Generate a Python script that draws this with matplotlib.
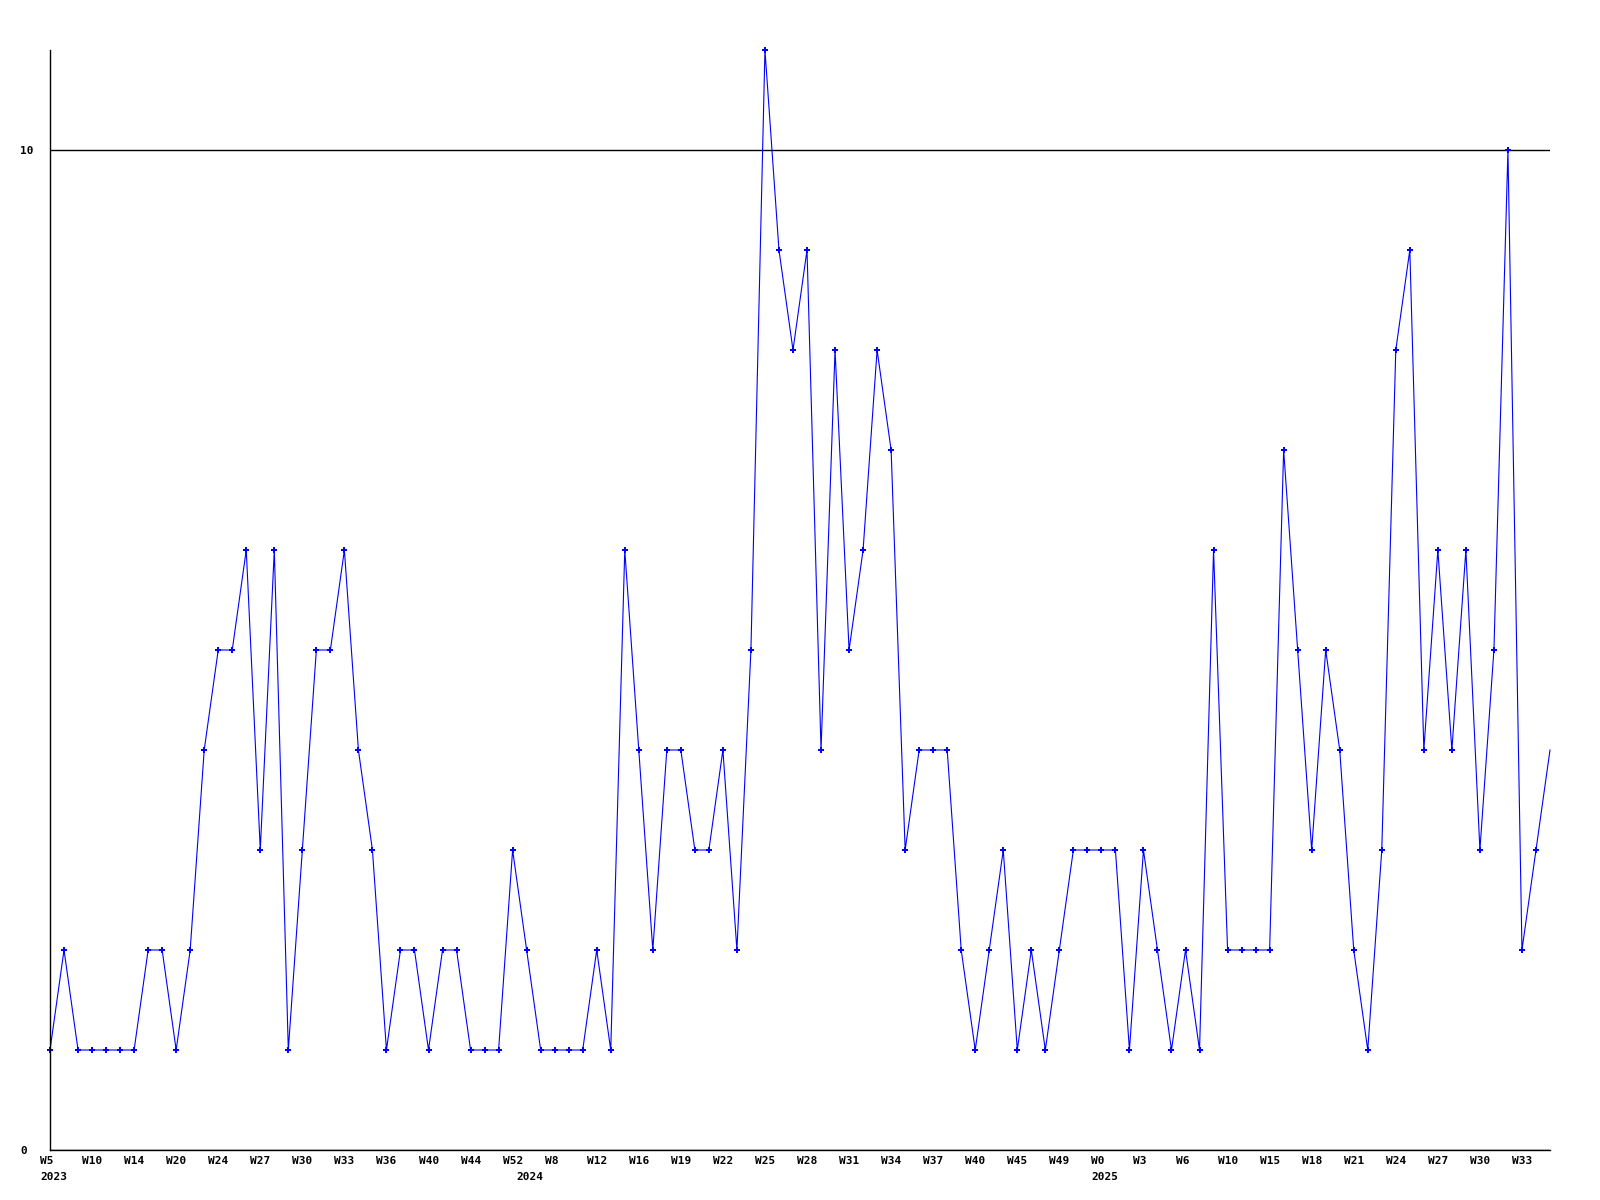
import matplotlib
matplotlib.use("Agg")
import matplotlib.pyplot as plt
from matplotlib.transforms import ScaledTranslation

# weekly counts, one point per week bucket
counts = [1, 2, 1, 1, 1, 1, 1, 2, 2, 1, 2, 4, 5, 5, 6, 3, 6, 1, 3, 5,
          5, 6, 4, 3, 1, 2, 2, 1, 2, 2, 1, 1, 1, 3, 2, 1, 1, 1, 1, 2,
          1, 6, 4, 2, 4, 4, 3, 3, 4, 2, 5, 11, 9, 8, 9, 4, 8, 5, 6, 8,
          7, 3, 4, 4, 4, 2, 1, 2, 3, 1, 2, 1, 2, 3, 3, 3, 3, 1, 3, 2,
          1, 2, 1, 6, 2, 2, 2, 2, 7, 5, 3, 5, 4, 2, 1, 3, 8, 9, 4, 6,
          4, 6, 3, 5, 10, 2, 3, 4]

# a week label on every third point
week_labels = ["W5", "W10", "W14", "W20", "W24", "W27", "W30", "W33", "W36",
               "W40", "W44", "W52", "W8", "W12", "W16", "W19", "W22", "W25",
               "W28", "W31", "W34", "W37", "W40", "W45", "W49", "W0", "W3",
               "W6", "W10", "W15", "W18", "W21", "W24", "W27", "W30", "W33"]
label_step = 3

# where each year starts
year_pos = [0, 34, 75]
year_labels = ["2023", "2024", "2025"]

x = list(range(len(counts)))

fig = plt.figure(figsize=(16, 12), dpi=100)
ax = fig.add_axes([50/1600, 50/1200, 1500/1600, 1100/1200])

ax.plot(x, counts, color="#0000ff", linewidth=0.8, marker="P", markersize=5,
        markeredgewidth=0, markevery=list(range(len(counts) - 1)), clip_on=False)

ax.set_xlim(0, len(counts) - 1)
ax.set_ylim(0, 11)

ax.spines["top"].set_visible(False)
ax.spines["right"].set_visible(False)
for s in ["left", "bottom"]:
    ax.spines[s].set_linewidth(1.0)
    ax.spines[s].set_color("black")

# y axis: only 0 and 10, line at 10
ax.set_yticks([0, 10])
ax.set_yticklabels(["0", "10"], fontfamily="DejaVu Sans Mono",
                   fontweight="bold", fontsize=8)
ax.tick_params(axis="y", length=0, pad=21.6)
for lab in ax.get_yticklabels():
    lab.set_horizontalalignment("left")
ax.grid(axis="y", color="black", linewidth=1.0)
ax.set_axisbelow(True)

# x axis: weeks (major) and years (minor)
ax.xaxis.remove_overlapping_locs = False
ax.set_xticks(x[::label_step])
ax.set_xticklabels(week_labels, fontfamily="DejaVu Sans Mono",
                   fontweight="bold", fontsize=8)
ax.set_xticks(year_pos, minor=True)
ax.set_xticklabels(year_labels, minor=True, fontfamily="DejaVu Sans Mono",
                   fontweight="bold", fontsize=8)
ax.tick_params(axis="x", which="major", length=0, pad=4.5)
ax.tick_params(axis="x", which="minor", length=0, pad=16)

shift = ScaledTranslation(-10/100, 0, fig.dpi_scale_trans)
for lab in ax.get_xticklabels() + ax.get_xticklabels(minor=True):
    lab.set_horizontalalignment("left")
    lab.set_transform(lab.get_transform() + shift)

fig.savefig("out.png", dpi=100)
